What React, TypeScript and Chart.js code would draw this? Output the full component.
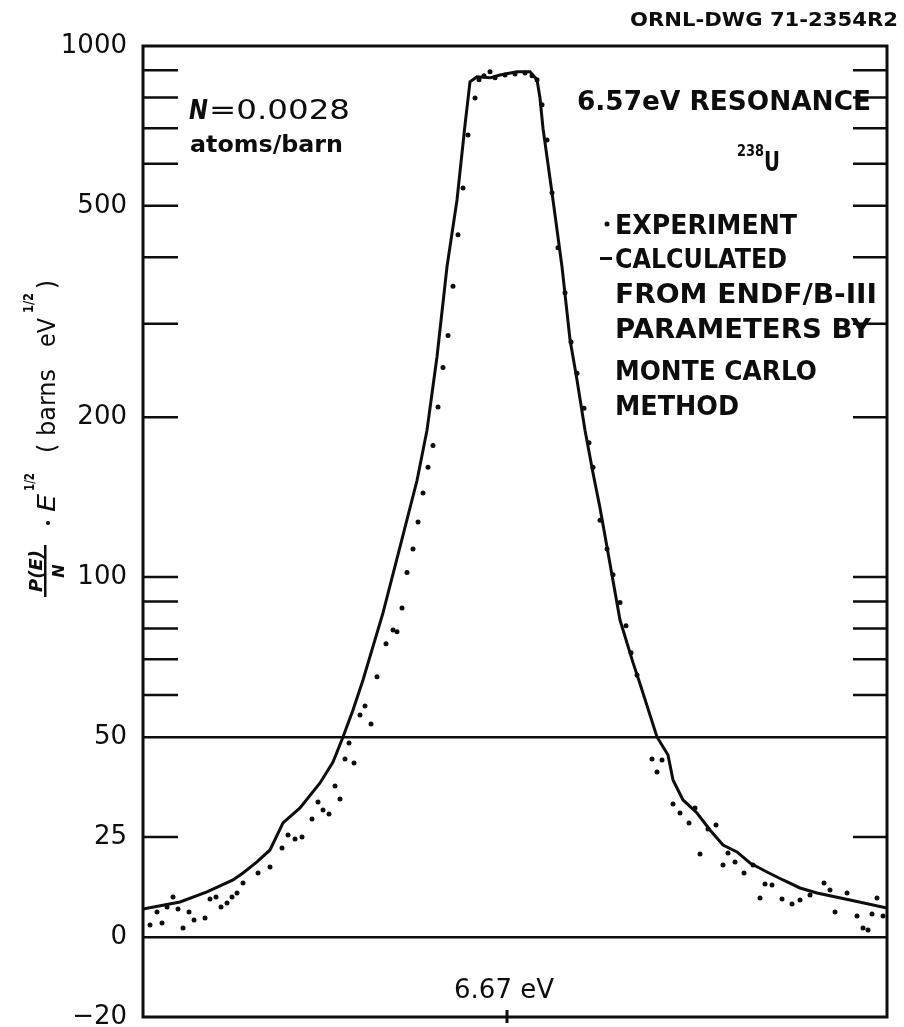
import React, { useEffect, useRef } from "react";
import { Chart, registerables } from "chart.js";

Chart.register(...registerables);

// ---------- data (energy in eV, value in barns eV^1/2) ----------
const calcEnergy = [
  6.306, 6.343, 6.37, 6.396, 6.406, 6.42, 6.433, 6.446, 6.463, 6.483, 6.496, 6.506,
  6.516, 6.526, 6.546, 6.563, 6.58, 6.59, 6.6, 6.61, 6.62, 6.628, 6.633, 6.64, 6.653,
  6.663, 6.68, 6.693, 6.7, 6.703, 6.706, 6.716, 6.725, 6.733, 6.74, 6.748, 6.756,
  6.763, 6.773, 6.783, 6.796, 6.803, 6.82, 6.831, 6.836, 6.846, 6.86, 6.873, 6.886,
  6.9, 6.913, 6.93, 6.946, 6.963, 6.98, 7.013, 7.05,
];
const calcValue = [
  7, 8.75, 11.25, 14.25, 16, 18.75, 21.75, 28.5, 32.25, 38.5, 43.75, 50,
  56.2, 64, 85.6, 114, 152, 189, 260, 384, 513, 710, 856, 875, 871,
  882, 894, 894, 864, 798, 700, 513, 384, 280, 235, 189, 157,
  135, 106, 83, 69, 63, 50, 45.5, 39.25, 34.25, 31, 26.75, 23,
  21.25, 18.5, 16.25, 14.25, 12.25, 11, 9.25, 7.25,
];

const expEnergy = [
  6.313, 6.32, 6.325, 6.33, 6.336, 6.341, 6.346, 6.352, 6.357, 6.368, 6.373, 6.379,
  6.384, 6.39, 6.395, 6.4, 6.406, 6.421, 6.433, 6.445, 6.451, 6.458, 6.465, 6.475,
  6.481, 6.486, 6.492, 6.498, 6.503, 6.508, 6.512, 6.517, 6.523, 6.528, 6.534, 6.54,
  6.549, 6.556, 6.56, 6.565, 6.57, 6.576, 6.581, 6.586, 6.591, 6.596, 6.601, 6.606,
  6.611, 6.616, 6.621, 6.626, 6.631, 6.638, 6.642, 6.647, 6.653, 6.658, 6.668, 6.678,
  6.688, 6.695, 6.7, 6.705, 6.71, 6.715, 6.721, 6.728, 6.734, 6.74, 6.747, 6.752,
  6.756, 6.763, 6.77, 6.776, 6.783, 6.789, 6.794, 6.8, 6.815, 6.82, 6.825, 6.836,
  6.843, 6.852, 6.858, 6.863, 6.871, 6.879, 6.886, 6.891, 6.898, 6.907, 6.916, 6.923,
  6.928, 6.935, 6.945, 6.955, 6.963, 6.973, 6.987, 6.993, 6.998, 7.01, 7.02, 7.026,
  7.031, 7.035, 7.04, 7.046,
];
const expValue = [
  3, 6.25, 3.5, 7.5, 10, 7, 2.25, 6.25, 4.25, 4.75, 9.5, 10,
  7.5, 8.5, 10, 11, 13.5, 16, 17.5, 22.25, 25.5, 24.5, 25, 29.5,
  33.75, 31.75, 30.75, 37.75, 34.5, 44.5, 48.5, 43.5, 55, 57.2, 52.9, 64.9,
  74.9, 79.5, 78.9, 87.5, 102, 113, 127, 144, 161, 177, 209, 248,
  285, 353, 441, 540, 680, 798, 864, 879, 894, 871, 882, 886,
  890, 879, 864, 775, 665, 529, 417, 343, 277, 242, 208, 179,
  161, 128, 113, 101, 89.6, 81, 72, 65.4, 44.5, 41.25, 44.25, 33.25,
  31, 28.5, 32.25, 20.75, 27, 28, 18, 21, 18.75, 16, 18, 9.75,
  13.25, 13, 9.5, 8.25, 9.25, 10.5, 13.5, 11.75, 6.25, 11, 5.25, 2.25,
  1.75, 5.75, 9.75, 5.25,
];

const yTickValues = [1000, 900, 800, 700, 600, 500, 400, 300, 200, 100, 90, 80, 70, 60, 50, 25, 0, -20];
const yLabeledTicks = [1000, 500, 200, 100, 50, 25, 0, -20];
const yFullLines = [50, 0];
const xMarkEnergy = 6.67;
const xMarkLabel = "6.67 eV";
const energyMin = 6.306;
const energyMax = 7.05;

// axis: linear below 50, logarithmic above 50
const LIN_TOP = 50;
const LOG_UNITS_PER_DECADE = 132.75;
function toAxis(v: number): number {
  return v <= LIN_TOP ? v : LIN_TOP + Math.log10(v / LIN_TOP) * LOG_UNITS_PER_DECADE;
}

const INK = "#0d0d0d";
const FONT = '"DejaVu Sans"';

function fitText(ctx: CanvasRenderingContext2D, s: string, x: number, y: number, w: number) {
  const m = ctx.measureText(s).width;
  const sx = m > 0 ? w / m : 1;
  ctx.save();
  ctx.translate(x, y);
  ctx.scale(sx, 1);
  ctx.textAlign = "left";
  ctx.fillText(s, 0, 0);
  ctx.restore();
}

const decorPlugin = {
  id: "decor",
  afterDraw(chart: any) {
    const { ctx, chartArea: a, scales } = chart;
    const ys = scales.y;
    const xs = scales.x;
    ctx.save();
    ctx.strokeStyle = INK;
    ctx.fillStyle = INK;
    ctx.lineCap = "butt";

    // frame
    ctx.lineWidth = 3;
    ctx.strokeRect(a.left, a.top, a.right - a.left, a.bottom - a.top);

    // inward tick marks on both sides
    ctx.lineWidth = 2.5;
    for (const v of yTickValues) {
      if (v === yTickValues[0] || v === yTickValues[yTickValues.length - 1] || yFullLines.includes(v)) continue;
      const py = ys.getPixelForValue(toAxis(v));
      ctx.beginPath();
      ctx.moveTo(a.left, py);
      ctx.lineTo(a.left + 35, py);
      ctx.moveTo(a.right - 34, py);
      ctx.lineTo(a.right, py);
      ctx.stroke();
    }

    // x mark at resonance energy
    const px = xs.getPixelForValue(xMarkEnergy);
    ctx.lineWidth = 3;
    ctx.beginPath();
    ctx.moveTo(px, a.bottom - 7);
    ctx.lineTo(px, a.bottom + 6);
    ctx.stroke();
    ctx.font = `26px ${FONT}`;
    ctx.textBaseline = "alphabetic";
    ctx.textAlign = "center";
    ctx.fillText(xMarkLabel, px - 3, 998);

    // drawing number
    ctx.font = `bold 19px ${FONT}`;
    fitText(ctx, "ORNL-DWG 71-2354R2", 630, 26, 268);

    // N = 0.0028 atoms/barn
    ctx.font = `italic bold 26px ${FONT}`;
    fitText(ctx, "N", 189, 119, 19);
    ctx.font = `26px ${FONT}`;
    fitText(ctx, "=0.0028", 209, 119, 141);
    ctx.font = `bold 23px ${FONT}`;
    fitText(ctx, "atoms/barn", 190, 152, 153);

    // resonance annotation
    ctx.font = `bold 26px ${FONT}`;
    fitText(ctx, "6.57eV RESONANCE", 577, 110, 294);
    ctx.font = `bold 16px ${FONT}`;
    fitText(ctx, "238", 737, 156, 27);
    ctx.font = `bold 26px ${FONT}`;
    fitText(ctx, "U", 764, 171, 16);

    // legend text
    ctx.beginPath();
    ctx.arc(607, 224, 2.5, 0, Math.PI * 2);
    ctx.fill();
    ctx.font = `bold 26px ${FONT}`;
    fitText(ctx, "EXPERIMENT", 615, 234, 182);
    ctx.fillRect(600, 257, 12, 3);
    fitText(ctx, "CALCULATED", 615, 268, 172);
    fitText(ctx, "FROM ENDF/B-III", 615, 303, 262);
    fitText(ctx, "PARAMETERS BY", 615, 338, 256);
    fitText(ctx, "MONTE CARLO", 615, 380, 202);
    fitText(ctx, "METHOD", 615, 415, 124);

    // rotated y-axis title
    ctx.save();
    ctx.translate(55, 600);
    ctx.rotate(-Math.PI / 2);
    ctx.textBaseline = "alphabetic";
    ctx.textAlign = "center";
    ctx.font = `italic bold 18px ${FONT}`;
    ctx.fillText("P(E)", 29, -13);
    ctx.fillRect(3, -11, 52, 2.5);
    ctx.font = `italic bold 16px ${FONT}`;
    ctx.fillText("N", 29, 9);
    ctx.beginPath();
    ctx.arc(77, -7, 2, 0, Math.PI * 2);
    ctx.fill();
    ctx.font = `italic 25px ${FONT}`;
    fitText(ctx, "E", 88, 0, 18);
    ctx.font = `bold 14px ${FONT}`;
    fitText(ctx, "1/2", 109, -21, 18);
    ctx.font = `25px ${FONT}`;
    fitText(ctx, "( barns", 147, 0, 84);
    fitText(ctx, "eV", 253, 0, 29);
    ctx.font = `bold 14px ${FONT}`;
    fitText(ctx, "1/2", 287, -22, 20);
    ctx.font = `25px ${FONT}`;
    fitText(ctx, ")", 311, 0, 9);
    ctx.restore();

    ctx.restore();
  },
};

export default function App() {
  const canvasRef = useRef<HTMLCanvasElement | null>(null);

  useEffect(() => {
    const canvas = canvasRef.current;
    if (!canvas) return;
    const fullLineValues = yFullLines.map(toAxis);

    const chart = new Chart(canvas, {
      type: "scatter",
      data: {
        datasets: [
          {
            label: "CALCULATED",
            data: calcEnergy.map((e, i) => ({ x: e, y: toAxis(calcValue[i]) })),
            showLine: true,
            borderColor: INK,
            borderWidth: 3,
            pointRadius: 0,
            tension: 0,
          },
          {
            label: "EXPERIMENT",
            data: expEnergy.map((e, i) => ({ x: e, y: toAxis(expValue[i]) })),
            showLine: false,
            pointRadius: 2.5,
            pointBorderWidth: 0,
            pointBackgroundColor: INK,
            backgroundColor: INK,
          },
        ],
      },
      options: {
        animation: false,
        responsive: false,
        devicePixelRatio: 1,
        events: [],
        layout: { padding: { left: 8, top: 46, right: 17, bottom: 10 } },
        plugins: {
          legend: { display: false },
          tooltip: { enabled: false },
        },
        scales: {
          x: {
            type: "linear",
            min: energyMin,
            max: energyMax,
            display: false,
          },
          y: {
            type: "linear",
            min: toAxis(-20),
            max: toAxis(1000),
            position: "left",
            afterBuildTicks: (scale: any) => {
              scale.ticks = yTickValues.map((v) => ({ value: toAxis(v) }));
            },
            afterFit: (scale: any) => {
              scale.width = 135;
              scale.paddingTop = 0;
              scale.paddingBottom = 0;
            },
            border: { display: false },
            grid: {
              drawTicks: false,
              lineWidth: 2.5,
              color: (c: any) =>
                c.tick && fullLineValues.some((u) => Math.abs(u - c.tick.value) < 1e-6) ? INK : "rgba(0,0,0,0)",
            },
            ticks: {
              autoSkip: false,
              padding: 16,
              color: INK,
              font: { family: "DejaVu Sans", size: 26 },
              callback: (_v: any, index: number) => {
                const v = yTickValues[index];
                if (!yLabeledTicks.includes(v)) return "";
                return v < 0 ? "\u2212" + Math.abs(v) : String(v);
              },
            },
          },
        },
      },
      plugins: [decorPlugin],
    });
    return () => chart.destroy();
  }, []);

  return (
    <div style={{ position: "absolute", left: 0, top: 0, width: 904, height: 1027, background: "#fff" }}>
      <canvas ref={canvasRef} width={904} height={1027} style={{ display: "block" }} />
    </div>
  );
}
